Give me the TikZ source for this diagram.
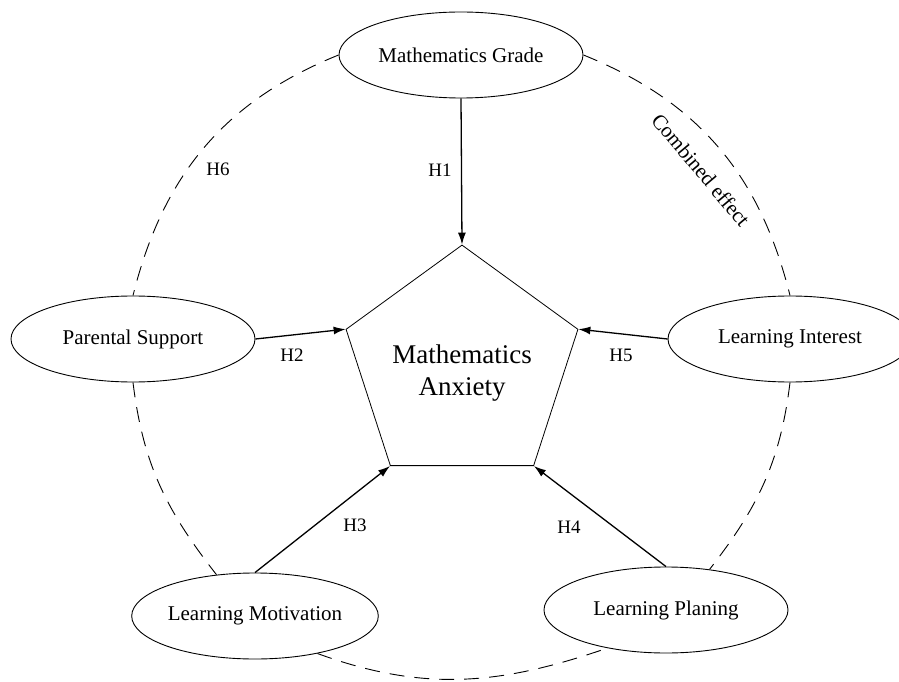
\documentclass[tikz,border=0pt]{standalone}
\usepackage{fontspec}
\setmainfont{Liberation Serif}
\usetikzlibrary{shapes.geometric,arrows.meta}
\tikzset{%
  factor/.style={draw, ellipse, line width=0.9pt, minimum width=244pt,
    minimum height=86pt, inner sep=0pt, font=\fontsize{21}{25}\selectfont},% outer variables
  anxiety/.style={draw, regular polygon, regular polygon sides=5, minimum size=236pt,
    inner sep=0pt, line width=0.8pt, align=center, font=\fontsize{27}{32}\selectfont},% centre
  hyp/.style={line width=1.3pt, -{Latex[length=12pt,width=8pt]}},% hypothesis arrows
  hlabel/.style={font=\fontsize{19}{23}\selectfont},% H1 ... H6
  combined/.style={line width=0.9pt, dash pattern=on 15pt off 10pt}% dashed ring
}

\begin{document}
\begin{tikzpicture}[x=1pt,y=1pt]
\useasboundingbox (0,0) rectangle (899,681);

\node[anxiety] (anx) at (462,314) {\rule{0pt}{31pt}Mathematics\\Anxiety};

\node[factor] (grade)      at (461,626) {Mathematics Grade};
\node[factor] (parental)   at (133,342) {Parental Support};
\node[factor] (interest)   at (790,342) {Learning Interest};
\node[factor] (motivation) at (255,65)  {Learning Motivation};
\node[factor] (planing)    at (666,71)  {Learning Planing};

\draw[hyp] (grade.south)      -- (anx.corner 1);
\draw[hyp] (parental.east)    -- (anx.corner 2);
\draw[hyp] (motivation.north) -- (anx.corner 3);
\draw[hyp] (planing.north)    -- (anx.corner 4);
\draw[hyp] (interest.west)    -- (anx.corner 5);

\draw[combined] (grade.west) to[out=202, in=76] (parental.north);
\draw[combined] (grade.east) to[out=-22, in=104] (interest.north);
\draw[combined] (parental.south) to[out=-83, in=128] (motivation.133);
\draw[combined] (interest.south) to[out=-97, in=52] (planing.43);
\draw[combined] (motivation.-31) to[out=-20, in=199] (planing.213);

\node[hlabel] (h1) at (440,511) {H1};
\node[hlabel] (h2) at (292,326) {H2};
\node[hlabel] (h3) at (355,156) {H3};
\node[hlabel] (h4) at (569,154) {H4};
\node[hlabel] (h5) at (621,326) {H5};
\node[hlabel] (h6) at (218,512) {H6};
\node[font=\fontsize{21}{25}\selectfont, rotate=-50] (comb) at (701,511) {Combined effect};
\end{tikzpicture}
\end{document}
